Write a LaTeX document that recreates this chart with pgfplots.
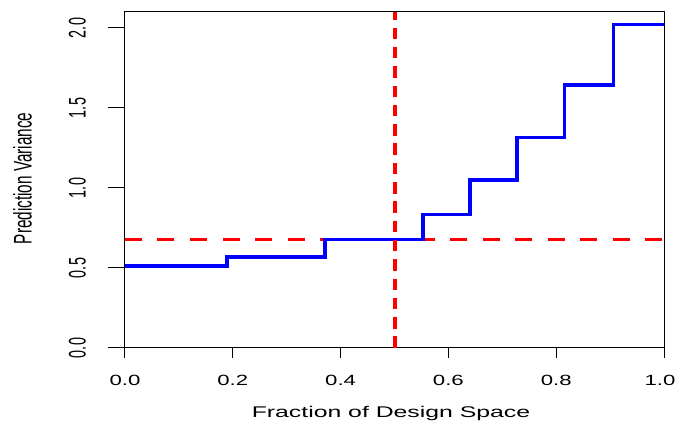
\documentclass[border=0pt]{standalone}
\usepackage{fontspec}
\setmainfont{Liberation Sans}[FakeStretch=1.6]
\newfontfamily\tfont{Liberation Sans}[FakeStretch=1.5]
\newfontfamily\vfont{Liberation Sans}[FakeStretch=0.6]
\usepackage{pgfplots}
\pgfplotsset{compat=1.18}
\pgfplotstableread{
x y
0     0.512
0.189 0.569
0.371 0.677
0.553 0.834
0.640 1.049
0.727 1.317
0.815 1.643
0.906 2.021
1.000 2.021
}\pv
\begin{document}
\begin{tikzpicture}
\useasboundingbox (0,0) rectangle (678pt,423pt);
\begin{axis}[
  at={(125pt,75pt)}, anchor=south west,
  scale only axis, width=539pt, height=336pt,
  xmin=0, xmax=1, ymin=0, ymax=2.1,
  axis line style={line width=1pt, black},
  tick align=outside,
  xtick={0,0.2,0.4,0.6,0.8},
  extra x ticks={1.0},
  extra x tick style={xticklabel style={/tikz/xshift=-4pt}},
  ytick={0,0.5,1.0,1.5,2.0},
  xtick pos=bottom, ytick pos=left,
  xtick style={line width=1pt, black, /pgfplots/major tick length=9.5pt},
  ytick style={line width=1pt, black, /pgfplots/major tick length=17pt},
  xticklabel style={/pgf/number format/fixed, /pgf/number format/fixed zerofill,
    /pgf/number format/precision=1, /pgf/number format/assume math mode=true,
    font=\tfont\fontsize{14.8}{17}\selectfont, yshift=-33.7pt, anchor=base},
  yticklabel style={/pgf/number format/fixed, /pgf/number format/fixed zerofill,
    /pgf/number format/precision=1, /pgf/number format/assume math mode=true,
    font=\vfont\fontsize{24}{27}\selectfont, xshift=-35pt, rotate=90, anchor=base},
  xlabel={Fraction of Design Space},
  xlabel style={font=\fontsize{15.5}{18}\selectfont, at={(axis description cs:0.4935,0)}, anchor=base, yshift=-70pt},
  ylabel={Prediction Variance},
  ylabel style={font=\vfont\fontsize{25.5}{28}\selectfont, at={(axis description cs:-0.1731,0.505)}, rotate=0, anchor=base},
]
\addplot[red, line width=3pt, dash pattern=on 17pt off 15.5pt] coordinates {(0,0.677) (1,0.677)};
\addplot[blue, line width=3.5pt, const plot mark left, line join=miter] table[x=x, y=y] {\pv};
\addplot[red, line width=4pt, dash pattern=on 11.5pt off 7.8pt] coordinates {(0.5,0) (0.5,2.1)};
\end{axis}
\end{tikzpicture}
\end{document}
